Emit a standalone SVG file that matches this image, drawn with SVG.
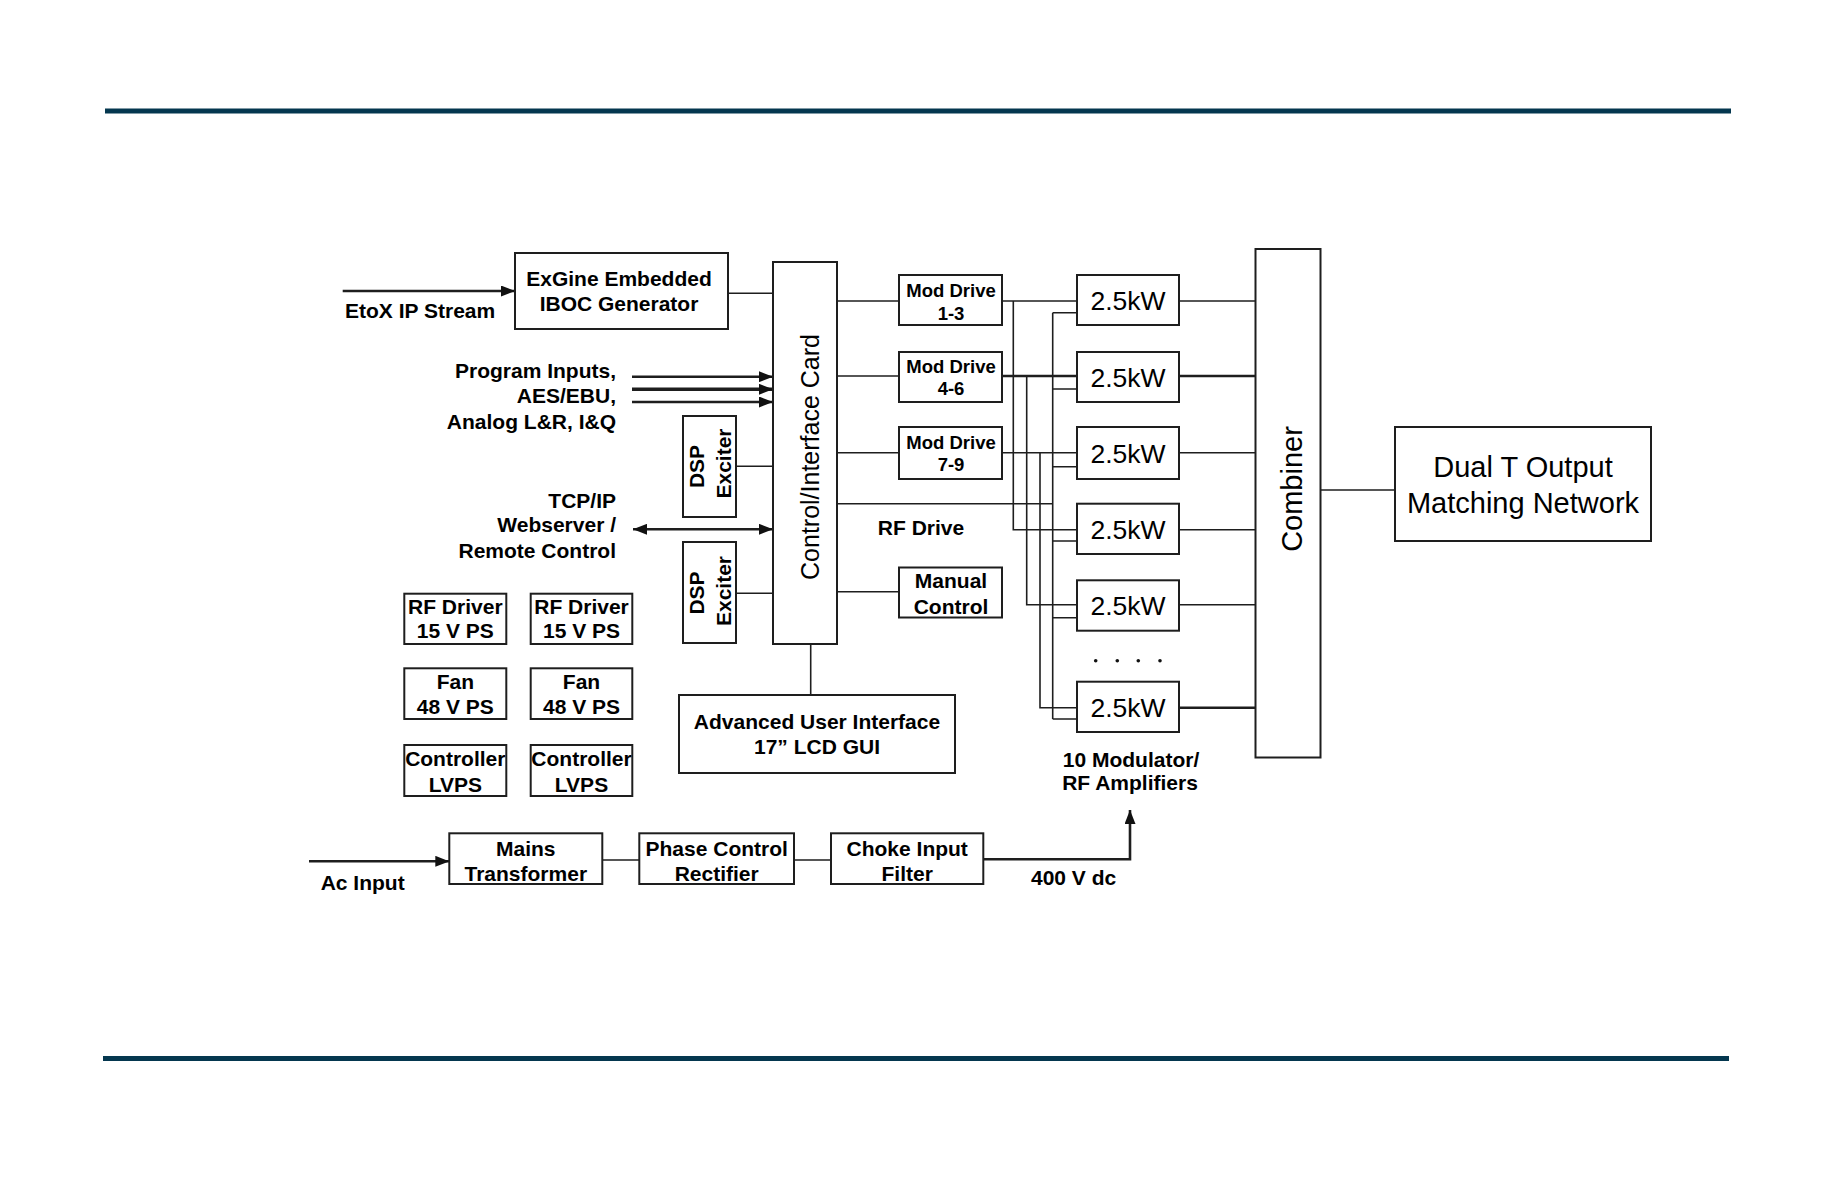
<svg xmlns="http://www.w3.org/2000/svg" width="1836" height="1188" viewBox="0 0 1836 1188">
<defs>
<style>
.bg{fill:#fff}
.box{fill:#fff;stroke:#1e1e1e;stroke-width:2}
.ln{fill:none;stroke:#1e1e1e;stroke-width:1.6}
.thk{stroke-width:2.6}
.b{font-family:"Liberation Sans",Arial,sans-serif;font-weight:bold;font-size:21px;fill:#000}
.md{font-size:18.5px}
.r{font-family:"Liberation Sans",Arial,sans-serif;font-weight:normal;fill:#000}
.amp{font-size:26.5px}
.c{text-anchor:middle}
.e{text-anchor:end}
.rule{fill:#04374f}
</style>
<marker id="ah" markerUnits="userSpaceOnUse" markerWidth="14" markerHeight="11" refX="14" refY="5.5" orient="auto-start-reverse">
<path d="M0,0 L14,5.5 L0,11 Z" fill="#111"/>
</marker>
</defs>
<rect class="bg" x="0" y="0" width="1836" height="1188"/>
<rect class="rule" x="105" y="108.5" width="1626" height="5"/>
<rect class="rule" x="103" y="1056" width="1626" height="5"/>

<g id="connectors">
<path class="ln thk" d="M342.7,291 H515" marker-end="url(#ah)"/>
<path class="ln" d="M728,293.3 H773"/>
<path class="ln thk" d="M632,376.7 H773" marker-end="url(#ah)"/>
<path class="ln" style="stroke-width:3.4" d="M632,389.3 H773" marker-end="url(#ah)"/>
<path class="ln thk" d="M632,402 H773" marker-end="url(#ah)"/>
<path class="ln thk" d="M633,529.3 H773" marker-start="url(#ah)" marker-end="url(#ah)"/>
<path class="ln" d="M736,466.3 H773"/>
<path class="ln" d="M736,593.3 H773"/>
<path class="ln" d="M837,301 H899"/>
<path class="ln" d="M837,376 H899"/>
<path class="ln" d="M837,452.7 H899"/>
<path class="ln" d="M837,591.7 H899"/>
<path class="ln" d="M837,503.7 H1052.7"/>
<path class="ln" d="M810.7,644 V695"/>
<path class="ln" d="M1002,301 H1077"/>
<path class="ln thk" d="M1002,376 H1077"/>
<path class="ln" d="M1002,452.7 H1077"/>
<path class="ln" d="M1013.3,301 V529.7 H1077"/>
<path class="ln" d="M1026.7,376 V604.7 H1077"/>
<path class="ln" d="M1040,452.7 V707.7 H1077"/>
<path class="ln" d="M1052.7,312.7 V719"/>
<path class="ln" d="M1052.7,312.7 H1077 M1052.7,389 H1077 M1052.7,466.7 H1077 M1052.7,541 H1077 M1052.7,617.7 H1077 M1052.7,719 H1077"/>
<path class="ln" d="M1179,301 H1255.5"/>
<path class="ln thk" d="M1179,376 H1255.5"/>
<path class="ln" d="M1179,452.7 H1255.5"/>
<path class="ln" d="M1179,529.7 H1255.5"/>
<path class="ln" d="M1179,604.7 H1255.5"/>
<path class="ln thk" d="M1179,707.7 H1255.5"/>
<path class="ln" d="M1320.5,490 H1395"/>
<path class="ln thk" d="M309,861.3 H449.3" marker-end="url(#ah)"/>
<path class="ln" d="M602.3,860 H639.3"/>
<path class="ln" d="M794,860 H831"/>
<path class="ln thk" d="M983.3,859.3 H1130 V810" marker-end="url(#ah)"/>
</g>

<g id="labels">
<text class="b" x="345" y="317.7">EtoX IP Stream</text>
<text class="b e" x="616" y="377.7">Program Inputs,</text>
<text class="b e" x="616" y="403.3">AES/EBU,</text>
<text class="b e" x="616" y="429">Analog L&amp;R, I&amp;Q</text>
<text class="b e" x="616" y="507.7">TCP/IP</text>
<text class="b e" x="616" y="532.3">Webserver /</text>
<text class="b e" x="616" y="558.3">Remote Control</text>
<text class="b c" x="921" y="535">RF Drive</text>
<text class="b" x="320.7" y="890">Ac Input</text>
<text class="b" x="1031" y="885">400 V dc</text>
<text class="b c" x="1131" y="766.7">10 Modulator/</text>
<text class="b c" x="1130" y="790">RF Amplifiers</text>
<g fill="#111">
<circle cx="1095.7" cy="660.7" r="1.8"/>
<circle cx="1117.3" cy="660.7" r="1.8"/>
<circle cx="1138.3" cy="660.7" r="1.8"/>
<circle cx="1160" cy="660.7" r="1.8"/>
</g>
</g>

<g id="exgine">
<rect class="box" x="515" y="253" width="213" height="76"/>
<text class="b c" x="619" y="286">ExGine Embedded</text>
<text class="b c" x="619" y="310.5">IBOC Generator</text>
</g>
<g id="control-card">
<rect class="box" x="773" y="262" width="64" height="382"/>
<text class="r c" font-size="25" transform="translate(819,457) rotate(-90)">Control/Interface Card</text>
</g>
<g id="dsp-exciter-1">
<rect class="box" x="683" y="416" width="53" height="101"/>
<text class="b c" transform="translate(703.5,466.5) rotate(-90)">DSP</text>
<text class="b c" transform="translate(730.5,463.5) rotate(-90)">Exciter</text>
</g>
<g id="dsp-exciter-2">
<rect class="box" x="683" y="542" width="53" height="101"/>
<text class="b c" transform="translate(704,593) rotate(-90)">DSP</text>
<text class="b c" transform="translate(730.5,591) rotate(-90)">Exciter</text>
</g>
<g id="mod-drive-1-3">
<rect class="box" x="899" y="275" width="103" height="50"/>
<text class="b md c" x="951" y="297.3">Mod Drive</text>
<text class="b md c" x="951" y="320">1-3</text>
</g>
<g id="mod-drive-4-6">
<rect class="box" x="899" y="352" width="103" height="50"/>
<text class="b md c" x="951" y="373.3">Mod Drive</text>
<text class="b md c" x="951" y="395">4-6</text>
</g>
<g id="mod-drive-7-9">
<rect class="box" x="899" y="427" width="103" height="52"/>
<text class="b md c" x="951" y="449.3">Mod Drive</text>
<text class="b md c" x="951" y="471">7-9</text>
</g>
<g id="manual-control">
<rect class="box" x="899" y="567.5" width="103" height="50"/>
<text class="b c" x="951" y="588.3">Manual</text>
<text class="b c" x="951" y="614">Control</text>
</g>
<g id="amp-1">
<rect class="box" x="1077" y="275" width="102" height="50"/>
<text class="r amp c" x="1128" y="310">2.5kW</text>
</g>
<g id="amp-2">
<rect class="box" x="1077" y="352" width="102" height="50"/>
<text class="r amp c" x="1128" y="387">2.5kW</text>
</g>
<g id="amp-3">
<rect class="box" x="1077" y="427" width="102" height="52"/>
<text class="r amp c" x="1128" y="462.5">2.5kW</text>
</g>
<g id="amp-4">
<rect class="box" x="1077" y="503.7" width="102" height="50.3"/>
<text class="r amp c" x="1128" y="538.5">2.5kW</text>
</g>
<g id="amp-5">
<rect class="box" x="1077" y="580.3" width="102" height="50.4"/>
<text class="r amp c" x="1128" y="615">2.5kW</text>
</g>
<g id="amp-10">
<rect class="box" x="1077" y="681.7" width="102" height="50.3"/>
<text class="r amp c" x="1128" y="716.5">2.5kW</text>
</g>
<g id="combiner">
<rect class="box" x="1255.5" y="249" width="65" height="508.5"/>
<text class="r c" font-size="29" transform="translate(1302,489) rotate(-90)">Combiner</text>
</g>
<g id="dual-t">
<rect class="box" x="1395" y="427" width="256" height="114"/>
<text class="r c" font-size="29" x="1523" y="477.3">Dual T Output</text>
<text class="r c" font-size="29" x="1523" y="513.3">Matching Network</text>
</g>
<g id="aui">
<rect class="box" x="679" y="695" width="276" height="78"/>
<text class="b c" x="817" y="728.7">Advanced User Interface</text>
<text class="b c" x="817" y="754">17” LCD GUI</text>
</g>
<g id="rf-driver-ps-1">
<rect class="box" x="404.3" y="593.7" width="102" height="50.3"/>
<text class="b c" x="455.3" y="614">RF Driver</text>
<text class="b c" x="455.3" y="638.3">15 V PS</text>
</g>
<g id="rf-driver-ps-2">
<rect class="box" x="530.7" y="593.7" width="101.6" height="50.3"/>
<text class="b c" x="581.5" y="614">RF Driver</text>
<text class="b c" x="581.5" y="638.3">15 V PS</text>
</g>
<g id="fan-ps-1">
<rect class="box" x="404.3" y="668.3" width="102" height="50.7"/>
<text class="b c" x="455.3" y="689">Fan</text>
<text class="b c" x="455.3" y="714.3">48 V PS</text>
</g>
<g id="fan-ps-2">
<rect class="box" x="530.7" y="668.3" width="101.6" height="50.7"/>
<text class="b c" x="581.5" y="689">Fan</text>
<text class="b c" x="581.5" y="714.3">48 V PS</text>
</g>
<g id="controller-lvps-1">
<rect class="box" x="404.3" y="745" width="102" height="51"/>
<text class="b c" x="455.3" y="765.7">Controller</text>
<text class="b c" x="455.3" y="791.7">LVPS</text>
</g>
<g id="controller-lvps-2">
<rect class="box" x="530.7" y="745" width="101.6" height="51"/>
<text class="b c" x="581.5" y="765.7">Controller</text>
<text class="b c" x="581.5" y="791.7">LVPS</text>
</g>
<g id="mains-transformer">
<rect class="box" x="449.3" y="833.3" width="153" height="50.7"/>
<text class="b c" x="525.8" y="855.5">Mains</text>
<text class="b c" x="525.8" y="881">Transformer</text>
</g>
<g id="phase-control-rectifier">
<rect class="box" x="639.3" y="833.3" width="154.7" height="50.7"/>
<text class="b c" x="716.7" y="855.5">Phase Control</text>
<text class="b c" x="716.7" y="881">Rectifier</text>
</g>
<g id="choke-input-filter">
<rect class="box" x="831" y="833.3" width="152.3" height="50.7"/>
<text class="b c" x="907.2" y="855.5">Choke Input</text>
<text class="b c" x="907.2" y="881">Filter</text>
</g>
</svg>
